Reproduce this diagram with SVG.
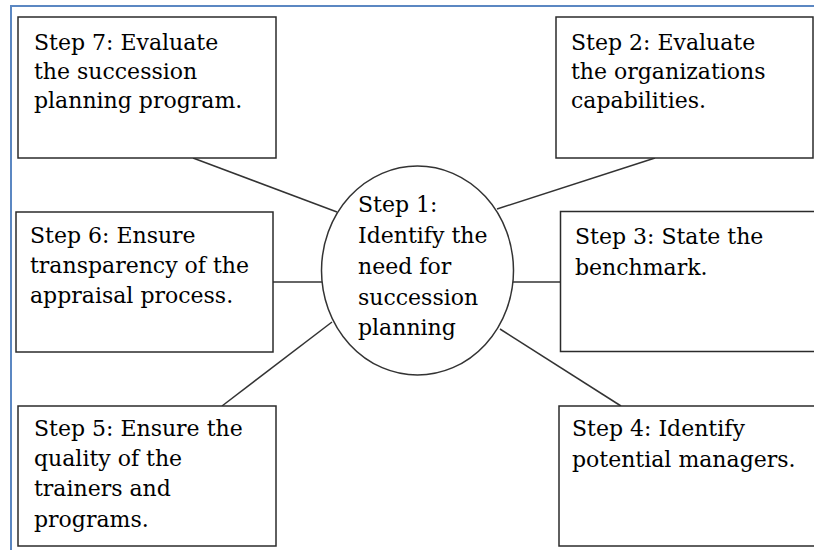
<svg xmlns="http://www.w3.org/2000/svg" width="814" height="550" viewBox="0 0 814 550">
<style>
.box{fill:#fff;stroke:#2b2b2b;stroke-width:1.5}
.lbl{font-family:"DejaVu Serif","Liberation Serif",serif;font-size:22px;fill:#000}
.conn{stroke:#333;stroke-width:1.5;fill:none}
</style>
<rect x="0" y="0" width="814" height="550" fill="#fff"/>
<path d="M11 550 V6 H814" fill="none" stroke="#5b87c2" stroke-width="2"/>
<g id="connectors">
<line class="conn" x1="193" y1="158" x2="337" y2="212"/>
<line class="conn" x1="655" y1="158" x2="497" y2="209"/>
<line class="conn" x1="273" y1="282" x2="322" y2="282"/>
<line class="conn" x1="513" y1="282" x2="560" y2="282"/>
<line class="conn" x1="222" y1="406" x2="332" y2="322"/>
<line class="conn" x1="621" y1="406" x2="500" y2="329"/>
</g>
<g id="step1">
<ellipse cx="417.5" cy="270.5" rx="96" ry="104.5" fill="#fff" stroke="#333" stroke-width="1.5"/>
<text class="lbl" x="358" y="212">Step 1:</text>
<text class="lbl" x="358" y="243">Identify the</text>
<text class="lbl" x="358" y="274">need for</text>
<text class="lbl" x="358" y="305">succession</text>
<text class="lbl" x="358" y="335">planning</text>
</g>
<g id="step7">
<rect class="box" x="18" y="17" width="258" height="141"/>
<text class="lbl" x="34" y="50">Step 7: Evaluate</text>
<text class="lbl" x="34" y="79">the succession</text>
<text class="lbl" x="34" y="108">planning program.</text>
</g>
<g id="step2">
<rect class="box" x="556" y="17" width="257" height="141"/>
<text class="lbl" x="571" y="50">Step 2: Evaluate</text>
<text class="lbl" x="571" y="79">the organizations</text>
<text class="lbl" x="571" y="108">capabilities.</text>
</g>
<g id="step6">
<rect class="box" x="16" y="212" width="257" height="140"/>
<text class="lbl" x="30" y="243">Step 6: Ensure</text>
<text class="lbl" x="30" y="273">transparency of the</text>
<text class="lbl" x="30" y="303">appraisal process.</text>
</g>
<g id="step3">
<rect class="box" x="560.5" y="211.5" width="270" height="140"/>
<text class="lbl" x="575" y="244">Step 3: State the</text>
<text class="lbl" x="575" y="275">benchmark.</text>
</g>
<g id="step5">
<rect class="box" x="18" y="406" width="258" height="140"/>
<text class="lbl" x="34" y="436">Step 5: Ensure the</text>
<text class="lbl" x="34" y="466">quality of the</text>
<text class="lbl" x="34" y="496">trainers and</text>
<text class="lbl" x="34" y="527">programs.</text>
</g>
<g id="step4">
<rect class="box" x="559" y="406" width="270" height="140"/>
<text class="lbl" x="572" y="436">Step 4: Identify</text>
<text class="lbl" x="572" y="467">potential managers.</text>
</g>
</svg>
